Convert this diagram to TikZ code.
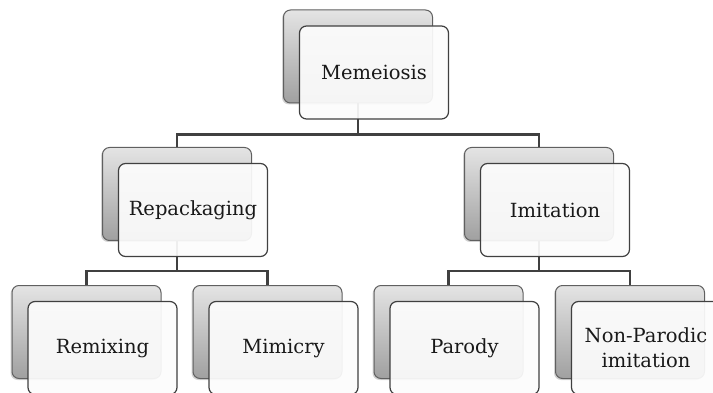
\documentclass[tikz,border=0pt]{standalone}
\usepackage{fontspec}
\setmainfont{DejaVu Serif}
\usetikzlibrary{shadows}
\definecolor{linec}{HTML}{404040}
\definecolor{backtop}{HTML}{E4E4E4}
\definecolor{backbot}{HTML}{A0A0A0}
\tikzset{
  backbox/.style={draw=gray!75!black, line width=1pt, rounded corners=7pt,
    minimum width=149pt, minimum height=93pt, top color=backtop, bottom color=backbot,
    drop shadow={shadow xshift=-1.5pt, shadow yshift=-1.5pt, opacity=0.35}},
  frontbox/.style={draw=linec, line width=1.2pt, rounded corners=7pt,
    minimum width=149pt, minimum height=93pt, fill=white!98!gray, fill opacity=0.93,
    text opacity=1, font=\fontsize{19.5}{25}\selectfont, align=center, text=black!90},
  conn/.style={draw=linec, line width=2.8pt}
}
\begin{document}
\begin{tikzpicture}[x=1pt,y=-1pt]
\useasboundingbox (0,0) rectangle (713,393);
\clip (0,0) rectangle (713,393);
% back boxes
\node[backbox] (b0) at (358,56.5) {};
\node[backbox] (b1) at (177,194) {};
\node[backbox] (b2) at (539,194) {};
\node[backbox] (b3) at (86.5,332) {};
\node[backbox] (b4) at (267.5,332) {};
\node[backbox] (b5) at (448.5,332) {};
\node[backbox] (b6) at (630,332) {};
% connectors
\draw[conn] (b0.south) -- ++(0,31) -| (b1.north);
\draw[conn] (b0.south) -- ++(0,31) -| (b2.north);
\draw[conn] (b1.south) -- ++(0,30) -| (b3.north);
\draw[conn] (b1.south) -- ++(0,30) -| (b4.north);
\draw[conn] (b2.south) -- ++(0,30) -| (b5.north);
\draw[conn] (b2.south) -- ++(0,30) -| (b6.north);
% front boxes
\node[frontbox] (f0) at (374,72.5) {Memeiosis};
\node[frontbox] (f1) at (193,210) {Repackaging};
\node[frontbox] (f2) at (555,210) {Imitation};
\node[frontbox] (f3) at (102.5,348) {Remixing};
\node[frontbox] (f4) at (283.5,348) {Mimicry};
\node[frontbox] (f5) at (464.5,348) {Parody};
\node[frontbox] (f6) at (646,348) {Non-Parodic\\imitation};
\end{tikzpicture}
\end{document}
